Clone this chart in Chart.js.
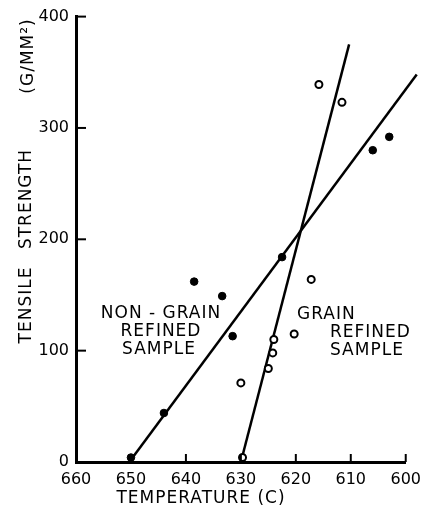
<!DOCTYPE html>
<html>
<head>
<meta charset="utf-8">
<script src="https://cdn.jsdelivr.net/npm/chart.js@4/dist/chart.umd.min.js"></script>
<style>
  html, body { margin: 0; padding: 0; background: #fff; }
  #wrap { width: 429px; height: 511px; }
</style>
</head>
<body>
<div id="wrap"><canvas id="tensileChart"></canvas></div>
<script>
// data
const tempTicks = [660, 650, 640, 630, 620, 610, 600];
const strengthTicks = [0, 100, 200, 300, 400];

// non-grain refined (filled dots)
const nonGrainTemp = [650, 644, 638.5, 633.4, 631.5, 622.5, 606, 603];
const nonGrainStrength = [4, 44, 162, 149, 113, 184, 280, 292];

// grain refined (open dots)
const grainTemp = [629.7, 630, 625, 624.2, 624, 620.3, 617.2, 615.8, 611.6];
const grainStrength = [4, 71, 84, 98, 110, 115, 164, 339, 323];

// the two hand drawn lines (end points)
const nonGrainLineTemp = [650, 598];
const nonGrainLineStrength = [2, 348];
const grainLineTemp = [630, 610.3];
const grainLineStrength = [0, 375];

const toPts = (xs, ys) => xs.map((v, i) => ({ x: v, y: ys[i] }));
const FONT = 'DejaVu Sans';

// ticks inside the axes + all the free text
const paperPlugin = {
  id: 'paper',
  afterDraw(chart) {
    const { ctx, chartArea, scales: { x, y } } = chart;
    ctx.save();
    ctx.strokeStyle = '#000';
    ctx.lineWidth = 2;
    strengthTicks.forEach(v => {
      const py = y.getPixelForValue(v);
      ctx.beginPath();
      ctx.moveTo(chartArea.left, py);
      ctx.lineTo(chartArea.left + 10, py);
      ctx.stroke();
    });
    tempTicks.slice(1).forEach(v => {
      const px = x.getPixelForValue(v);
      ctx.beginPath();
      ctx.moveTo(px, chartArea.bottom);
      ctx.lineTo(px, chartArea.bottom - 8);
      ctx.stroke();
    });

    ctx.fillStyle = '#000';
    ctx.textAlign = 'center';
    ctx.textBaseline = 'middle';
    ctx.font = '17px "' + FONT + '"';
    ctx.letterSpacing = '1px';

    // x title
    ctx.fillText('TEMPERATURE (C)', 201, 499);

    // y title, spread out like the original
    ctx.save();
    ctx.translate(27, 0);
    ctx.rotate(-Math.PI / 2);
    ctx.fillText('TENSILE', -305, 0);
    ctx.fillText('STRENGTH', -199, 0);
    ctx.fillText('(G/MM²)', -56, 2);
    ctx.restore();

    // labels in the plot
    ctx.fillText('NON - GRAIN', 161, 314);
    ctx.fillText('REFINED', 161, 332);
    ctx.fillText('SAMPLE', 159, 350);
    ctx.textAlign = 'left';
    ctx.fillText('GRAIN', 297, 315);
    ctx.fillText('REFINED', 330, 333);
    ctx.fillText('SAMPLE', 330, 351);
    ctx.restore();
  }
};

const ctx = document.getElementById('tensileChart').getContext('2d');
const tensileChart = new Chart(ctx, {
  type: 'scatter',
  data: {
    datasets: [
      {
        label: 'Non-grain refined',
        data: toPts(nonGrainTemp, nonGrainStrength),
        pointRadius: 3.8,
        pointBackgroundColor: '#000',
        pointBorderColor: '#000',
        pointBorderWidth: 1,
        clip: false
      },
      {
        label: 'Grain refined',
        data: toPts(grainTemp, grainStrength),
        pointRadius: 3.5,
        pointBackgroundColor: '#fff',
        pointBorderColor: '#000',
        pointBorderWidth: 2,
        clip: false
      },
      {
        label: 'Non-grain line',
        data: toPts(nonGrainLineTemp, nonGrainLineStrength),
        showLine: true,
        borderColor: '#000',
        borderWidth: 2.5,
        pointRadius: 0,
        clip: false
      },
      {
        label: 'Grain line',
        data: toPts(grainLineTemp, grainLineStrength),
        showLine: true,
        borderColor: '#000',
        borderWidth: 2.5,
        pointRadius: 0,
        clip: false
      }
    ]
  },
  options: {
    responsive: true,
    maintainAspectRatio: false,
    animation: false,
    layout: { padding: { top: 15, right: 21, left: 0, bottom: 0 } },
    plugins: {
      legend: { display: false },
      tooltip: { enabled: false }
    },
    scales: {
      x: {
        type: 'linear',
        reverse: true,
        min: 600,
        max: 660,
        afterBuildTicks: s => { s.ticks = tempTicks.map(v => ({ value: v })); },
        afterFit: s => { s.height = 49; },
        grid: { display: false, drawTicks: false },
        border: { display: true, color: '#000', width: 3 },
        ticks: { color: '#000', font: { family: FONT, size: 16 }, padding: 8, maxRotation: 0 }
      },
      y: {
        min: 0,
        max: 400,
        afterBuildTicks: s => { s.ticks = strengthTicks.map(v => ({ value: v })); },
        afterFit: s => { s.width = 76; },
        grid: { display: false, drawTicks: false },
        border: { display: true, color: '#000', width: 3 },
        ticks: { color: '#000', font: { family: FONT, size: 16 }, padding: 7 }
      }
    }
  },
  plugins: [paperPlugin]
});
</script>
</body>
</html>
